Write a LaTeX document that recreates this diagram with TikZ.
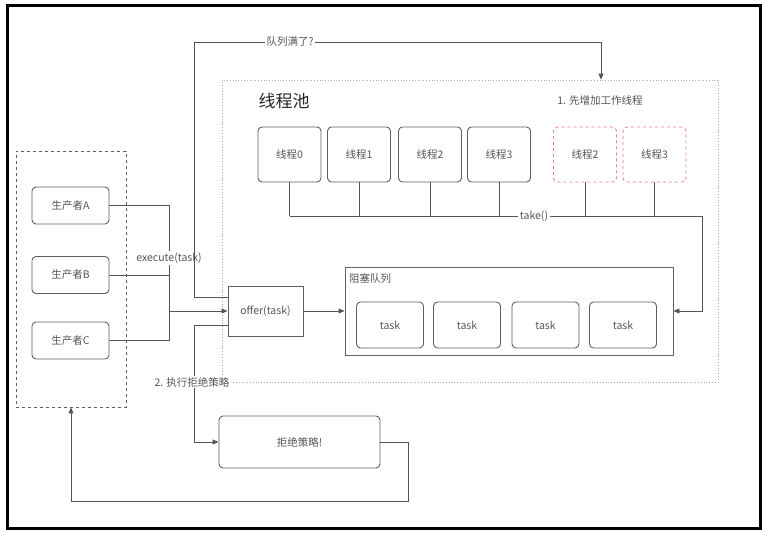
\documentclass[tikz,border=0pt]{standalone}
\usepackage{fontspec}
\setmainfont{Noto Sans CJK SC}
\newfontfamily\cjkbold[AutoFakeBold=3]{Noto Sans CJK SC}
\usetikzlibrary{arrows.meta}
\definecolor{linegray}{HTML}{555555}
\definecolor{boxgray}{HTML}{606060}
\definecolor{txtgray}{HTML}{555555}
\definecolor{poolgray}{HTML}{AAAAAA}
\definecolor{redish}{HTML}{E57F8A}
\tikzset{
  base/.style={font=\fontsize{10.5}{12}\selectfont, text=txtgray, inner sep=0pt},
  rbox/.style={base, draw=boxgray, line width=0.9pt, rounded corners=4pt},
  thread/.style={rbox, minimum width=63pt, minimum height=55pt},
  newthread/.style={thread, draw=redish, dashed},
  taskbox/.style={rbox, minimum width=67pt, minimum height=46pt},
  prod/.style={rbox, minimum width=77pt, minimum height=37pt},
  sqbox/.style={base, draw=boxgray, line width=0.9pt},
  conn/.style={draw=linegray, line width=0.9pt},
  arr/.style={conn, -{Triangle[length=6pt,width=5pt]}},
  lbl/.style={base, fill=white, inner sep=1.5pt},
}
\begin{document}
\begin{tikzpicture}[x=1pt, y=-1pt]
\useasboundingbox (0,0) rectangle (780,540);
\fill[white] (0,0) rectangle (780,540);
% outer frame
\draw[line width=3pt] (7,6) rectangle (760,528);

% producer group
\node[draw=boxgray, dashed, line width=0.8pt, minimum width=110pt, minimum height=256pt, inner sep=0pt] (prods) at (71,279) {};
\node[prod] (pa) at (70.5,205.5) {生产者A};
\node[prod] (pb) at (70.5,275) {生产者B};
\node[prod] (pc) at (70.5,340.5) {生产者C};

% thread pool
\node[draw=poolgray, dotted, line width=0.8pt, minimum width=496pt, minimum height=302pt, inner sep=0pt] (pool) at (470,231) {};
\node[base, font=\cjkbold\fontsize{17}{20}\selectfont, text=black!85] (pooltitle) at (284,101) {线程池};
\node[base] (addlbl) at (600,101) {1. 先增加工作线程};

\node[thread] (t0) at (289.5,154.5) {线程0};
\node[thread] (t1) at (359,154.5) {线程1};
\node[thread] (t2) at (430,154.5) {线程2};
\node[thread] (t3) at (499,154.5) {线程3};
\node[newthread] (n2) at (585,154.5) {线程2};
\node[newthread] (n3) at (654.5,154.5) {线程3};

% blocking queue
\node[sqbox, minimum width=328pt, minimum height=88pt] (queue) at (509,311) {};
\node[base, anchor=west] (qlbl) at (349,278) {阻塞队列};
\node[taskbox] (k1) at (390,325) {task};
\node[taskbox] (k2) at (467,325) {task};
\node[taskbox] (k3) at (545.5,325) {task};
\node[taskbox] (k4) at (623,325) {task};

% offer and reject
\node[sqbox, minimum width=75pt, minimum height=50pt] (offer) at (265.5,311) {offer(task)};
\node[rbox, minimum width=161pt, minimum height=52pt] (reject) at (299.5,442) {拒绝策略!};

% producers submit tasks
\coordinate (merge) at (169,311);
\draw[conn] (pa.east) -| (merge);
\draw[conn] (pb.east) -- (pb.east -| merge);
\draw[conn] (pc.east) -| (merge);
\draw[arr] (merge) -- (offer.west);
\node[lbl] (execlbl) at (169,258) {execute(task)};

% offer into queue
\draw[arr] (offer.east) -- (queue.west);

% queue full: add worker threads
\coordinate (fullA) at (194,42);
\draw[arr] ([yshift=14pt]offer.west) -| (fullA) -| (pool.north -| 601,0);
\node[lbl] (fulllbl) at (290,42) {队列满了?};

% workers take tasks
\coordinate (takeL) at (289.5,216);
\coordinate (takeR) at (702,216);
\foreach \t in {t0,t1,t2,t3,n2,n3} {
  \draw[conn] (\t.south) -- (\t.south |- takeL);
}
\draw[arr] (takeL) -- (takeR) |- (queue.east);
\node[lbl] (takelbl) at (534,216) {take()};

% rejection path
\coordinate (rejA) at (194,442);
\draw[arr] ([yshift=-14pt]offer.west) -| (rejA) -- (reject.west);
\node[lbl] (rejlbl) at (192,382) {2. 执行拒绝策略};
\coordinate (backA) at (408,501);
\draw[arr] (reject.east) -| (backA) -| (prods.south);
\end{tikzpicture}
\end{document}
